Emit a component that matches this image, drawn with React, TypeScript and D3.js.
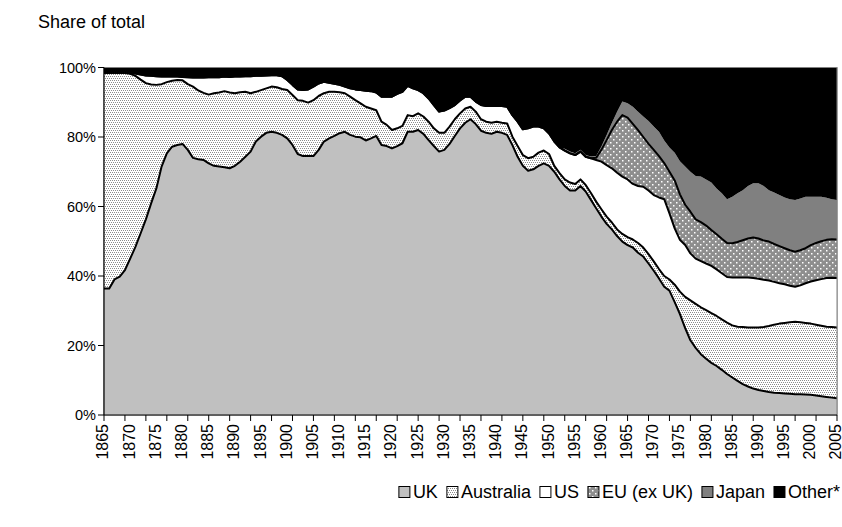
import React from 'react';
import * as d3 from 'd3';

const firstYear = 1865;
const lastYear = 2005;
const years: number[] = d3.range(firstYear, lastYear + 1);

const seriesNames = ['UK', 'Australia', 'US', 'EU (ex UK)', 'Japan', 'Other*'];

const ukValues = [
  36.4, 36.4, 39.0, 39.8, 41.7, 45.0, 48.4, 52.3, 56.3, 60.9,
  65.2, 71.5, 75.3, 77.2, 77.7, 78.0, 76.3, 74.0, 73.6, 73.4,
  72.4, 71.7, 71.5, 71.3, 71.0, 71.7, 72.9, 74.3, 75.8, 78.7,
  80.1, 81.2, 81.5, 81.2, 80.6, 79.6, 77.7, 75.1, 74.5, 74.5,
  74.5, 76.3, 78.7, 79.6, 80.3, 81.1, 81.5, 80.6, 80.1, 79.9,
  79.0, 79.6, 80.3, 77.7, 77.4, 76.7, 77.4, 78.2, 81.5, 81.5,
  82.0, 80.9, 79.1, 77.4, 75.8, 76.3, 78.0, 80.3, 82.5, 84.1,
  85.1, 83.7, 81.8, 81.2, 80.9, 81.5, 81.2, 80.6, 77.7, 74.3,
  71.7, 70.3, 70.7, 71.7, 72.4, 71.7, 70.0, 67.8, 65.9, 64.6,
  64.6, 65.9, 64.3, 61.9, 59.5, 57.1, 55.0, 53.4, 51.5, 49.9,
  48.9, 48.2, 46.7, 45.6, 43.6, 41.5, 39.3, 36.9, 35.8, 32.5,
  29.0, 25.0, 21.5, 19.3, 17.5, 16.2, 15.0, 14.1, 13.0, 11.8,
  10.8, 9.8, 8.9, 8.2, 7.6, 7.2, 6.9, 6.6, 6.4, 6.3,
  6.2, 6.1, 6.0, 6.0, 5.9, 5.8, 5.6, 5.4, 5.2, 5.0,
  4.8,
];

const australiaValues = [
  62.1, 62.1, 59.5, 58.7, 56.7, 53.2, 49.2, 44.2, 39.2, 34.2,
  29.8, 23.7, 20.5, 19.0, 18.7, 18.3, 18.9, 20.5, 19.8, 19.3,
  19.8, 20.9, 21.3, 21.9, 21.8, 20.9, 20.0, 18.7, 16.8, 14.3,
  13.4, 12.8, 13.0, 13.1, 13.2, 13.9, 14.4, 15.5, 15.9, 15.4,
  16.1, 15.5, 13.9, 13.4, 12.7, 11.8, 11.1, 11.0, 10.5, 9.8,
  9.7, 8.6, 7.4, 6.7, 6.1, 5.3, 5.1, 5.0, 4.8, 4.5,
  4.8, 5.0, 5.3, 5.1, 5.4, 4.9, 5.0, 4.8, 4.3, 4.1,
  3.6, 3.6, 3.3, 3.2, 3.2, 2.9, 2.9, 3.3, 2.4, 3.1,
  3.1, 3.6, 3.6, 3.8, 3.7, 3.4, 1.7, 1.8, 1.9, 2.3,
  1.9, 1.9, 1.9, 2.0, 1.9, 2.1, 2.1, 2.0, 1.9, 2.2,
  2.3, 2.3, 2.8, 2.6, 2.7, 2.7, 2.7, 3.1, 3.2, 5.0,
  6.5, 9.0, 11.5, 12.7, 13.5, 14.0, 14.3, 14.4, 14.5, 14.8,
  15.0, 15.6, 16.4, 17.0, 17.6, 18.0, 18.4, 19.0, 19.6, 20.0,
  20.3, 20.6, 20.8, 20.7, 20.6, 20.5, 20.4, 20.3, 20.2, 20.3,
  20.4,
];

const usValues = [
  0, 0, 0, 0, 0.1, 0.2, 0.7, 1.5, 2.2, 2.5,
  2.5, 2.2, 1.6, 1.2, 1.0, 1.0, 2.0, 2.6, 3.7, 4.4,
  5.0, 4.7, 4.4, 4.2, 4.5, 4.8, 4.5, 4.5, 4.9, 4.6,
  4.1, 3.7, 3.3, 3.5, 3.7, 2.9, 2.9, 3.1, 3.1, 3.8,
  3.9, 3.6, 3.3, 2.6, 2.3, 2.1, 1.9, 2.4, 3.1, 3.8,
  4.6, 5.0, 5.1, 7.2, 8.1, 9.6, 9.9, 9.8, 8.4, 8.0,
  6.7, 6.7, 6.7, 6.7, 6.1, 6.4, 5.3, 4.1, 3.7, 3.4,
  2.9, 2.9, 4.1, 4.5, 4.8, 4.5, 4.8, 4.8, 6.2, 7.0,
  7.4, 8.6, 8.7, 7.5, 6.4, 5.9, 7.0, 7.4, 8.3, 8.4,
  8.3, 8.0, 8.1, 10.0, 12.0, 13.7, 14.8, 15.6, 16.3, 16.5,
  16.6, 16.0, 16.4, 17.5, 18.3, 19.1, 20.6, 22.1, 19.0, 16.2,
  14.9, 14.9, 13.5, 13.0, 13.3, 13.4, 13.6, 13.4, 13.3, 13.1,
  13.8, 14.2, 14.3, 14.4, 14.2, 14.0, 13.6, 13.1, 12.3, 11.6,
  11.1, 10.5, 10.1, 10.6, 11.4, 12.1, 12.8, 13.4, 14.0, 14.2,
  14.2,
];

// EU (ex UK) values start in 1959 (zero before)
const euStartYear = 1959;
const euValues = [
  0.6, 3.4, 7.2, 11.0, 14.7, 17.7, 17.8, 17.3, 16.1, 14.3,
  13.4, 13.0, 11.9, 10.4, 12.0, 13.8, 13.1, 11.6, 12.0, 11.3,
  11.2, 10.9, 10.3, 10.1, 9.9, 9.8, 9.8, 10.2, 10.7, 11.2,
  11.7, 11.6, 11.3, 11.2, 10.9, 10.7, 10.4, 10.2, 10.1, 10.1,
  10.1, 10.5, 10.7, 10.9, 11.0, 11.1, 11.1,
];

// Japan values start in 1953 (zero before)
const japanStartYear = 1953;
const japanValues = [
  0.5, 0.5, 0.5, 0.5, 0.5, 0.5,
  0.5, 1.0, 1.5, 2.0, 2.9, 3.9, 4.1, 4.9, 5.3, 5.9,
  6.6, 6.7, 7.0, 6.5, 7.0, 8.0, 9.5, 11.0, 11.5, 12.5,
  13.1, 13.3, 13.7, 13.2, 13.1, 12.6, 13.4, 14.0, 14.4, 15.1,
  15.6, 15.9, 15.7, 14.8, 14.8, 14.7, 14.6, 14.7, 14.9, 14.9,
  14.8, 13.9, 13.3, 12.8, 12.1, 11.5, 11.4,
];

const otherValues = [
  1.5, 1.5, 1.5, 1.5, 1.5, 1.6, 1.7, 2.0, 2.3, 2.4,
  2.5, 2.6, 2.6, 2.6, 2.6, 2.7, 2.8, 2.9, 2.9, 2.9,
  2.8, 2.7, 2.8, 2.6, 2.7, 2.6, 2.6, 2.5, 2.5, 2.4,
  2.4, 2.3, 2.2, 2.2, 2.5, 3.6, 5.0, 6.3, 6.5, 6.3,
  5.5, 4.6, 4.1, 4.4, 4.7, 5.0, 5.5, 6.0, 6.3, 6.5,
  6.7, 6.8, 7.2, 8.4, 8.4, 8.4, 7.6, 7.0, 5.3, 6.0,
  6.5, 7.4, 8.9, 10.8, 12.7, 12.4, 11.7, 10.8, 9.5, 8.4,
  8.4, 9.8, 10.8, 11.1, 11.1, 11.1, 11.1, 11.3, 13.7, 15.6,
  17.8, 17.5, 17.0, 17.0, 17.5, 19.0, 21.3, 23.0, 23.4, 24.2,
  24.7, 23.7, 25.2, 25.6, 25.5, 22.7, 19.4, 16.0, 12.7, 9.8,
  10.3, 11.3, 12.7, 14.1, 15.4, 17.0, 18.5, 21.0, 23.0, 24.5,
  27.0, 28.5, 30.0, 31.2, 31.4, 32.2, 33.1, 34.8, 36.2, 37.9,
  37.2, 36.2, 35.3, 34.1, 33.3, 33.3, 34.1, 35.3, 36.0, 36.7,
  37.4, 37.9, 38.1, 37.7, 37.2, 37.2, 37.2, 37.2, 37.5, 37.9,
  38.1,
];

const yTickValues = [0, 20, 40, 60, 80, 100];
const xLabelYears = d3.range(1865, 2006, 5);
const xTickYears = d3.range(1865, 2006, 4);

const W = 842;
const H = 527;
const plotLeft = 104;
const plotRight = 837;
const plotTop = 67.5;
const plotBottom = 415;
const FONT_NAME = 'Liberation Sans';
const FONT = "'Liberation Sans', Arial, Helvetica, sans-serif";

const fills = ['#c0c0c0', 'url(#patAus)', '#ffffff', 'url(#patEU)', '#808080', '#000000'];
const stroked = [true, true, true, true, false, false];

const legendFontSize = 18;
const legendRight = 840;
const legendSwatch = 11;
const legendSwatchGap = 3;
const legendItemGap = 9;

function measure(text: string, size: number): number {
  try {
    const c = document.createElement('canvas').getContext('2d');
    if (c) {
      c.font = `${size}px '${FONT_NAME}'`;
      return c.measureText(text).width;
    }
  } catch (e) {}
  return text.length * size * 0.55;
}

export default function App() {
  const rows = years.map((yr, i) => ({
    year: yr,
    'UK': ukValues[i],
    'Australia': australiaValues[i],
    'US': usValues[i],
    'EU (ex UK)': yr >= euStartYear ? euValues[yr - euStartYear] : 0,
    'Japan': yr >= japanStartYear ? japanValues[yr - japanStartYear] : 0,
    'Other*': otherValues[i],
  }));

  const x = d3.scaleLinear().domain([firstYear, lastYear]).range([plotLeft, plotRight]);
  const y = d3.scaleLinear().domain([0, 100]).range([plotBottom, plotTop]);

  const stack = d3.stack<any>().keys(seriesNames).order(d3.stackOrderNone).offset(d3.stackOffsetNone);
  const layers = stack(rows);

  const area = d3.area<any>()
    .x((d) => x(d.data.year))
    .y0((d) => y(d[0]))
    .y1((d) => y(Math.min(100, d[1])));
  const topLine = d3.line<any>()
    .x((d) => x(d.data.year))
    .y((d) => y(Math.min(100, d[1])));

  // legend layout from measured text widths, right-aligned to legendRight
  const widths = seriesNames.map((n) => measure(n, legendFontSize));
  const total = widths.reduce((a, b) => a + b, 0) + seriesNames.length * (legendSwatch + legendSwatchGap) +
    (seriesNames.length - 1) * legendItemGap;
  let cursor = legendRight - total;
  const legendX = widths.map((w) => {
    const pos = cursor;
    cursor += legendSwatch + legendSwatchGap + w + legendItemGap;
    return pos;
  });

  return (
    <svg width={W} height={H} style={{ position: 'absolute', left: 0, top: 0, background: '#fff' }}
      fontFamily={FONT}>
      <defs>
        <pattern id="patAus" width="4" height="4" patternUnits="userSpaceOnUse">
          <rect width="4" height="4" fill="#ffffff" />
          <rect x="0" y="0" width="1" height="1" fill="#8c8c8c" />
          <rect x="2" y="0" width="1" height="1" fill="#8c8c8c" />
          <rect x="1" y="2" width="1" height="1" fill="#8c8c8c" />
          <rect x="3" y="2" width="1" height="1" fill="#8c8c8c" />
        </pattern>
        <pattern id="patEU" width="6" height="6" patternUnits="userSpaceOnUse">
          <rect width="6" height="6" fill="#8e8e8e" />
          <rect x="1" y="1" width="1.5" height="1.5" fill="#ffffff" />
          <rect x="4" y="4" width="1.5" height="1.5" fill="#ffffff" />
        </pattern>
        <clipPath id="plotClip">
          <rect x={plotLeft} y={plotTop} width={plotRight - plotLeft} height={plotBottom - plotTop} />
        </clipPath>
      </defs>

      <text x={38} y={28} fontSize={18} fill="#000">Share of total</text>

      <rect x={plotLeft} y={plotTop} width={plotRight - plotLeft} height={plotBottom - plotTop}
        fill="#fff" stroke="#808080" strokeWidth={1} />

      <g clipPath="url(#plotClip)">
        {layers.map((layer, i) => (
          <path key={'a' + i} d={area(layer) || ''} fill={fills[i]} stroke="none" />
        ))}
        {layers.map((layer, i) =>
          stroked[i] ? (
            <path key={'l' + i} d={topLine(layer) || ''} fill="none" stroke="#000" strokeWidth={2}
              strokeLinejoin="round" />
          ) : null
        )}
      </g>

      <line x1={plotRight} x2={plotRight} y1={plotTop} y2={plotBottom} stroke="#808080" strokeWidth={1} />
      <line x1={plotLeft} x2={plotRight} y1={plotTop} y2={plotTop} stroke="#808080" strokeWidth={1} />

      {/* y axis */}
      <line x1={plotLeft} x2={plotLeft} y1={plotTop} y2={plotBottom} stroke="#000" strokeWidth={1.2} />
      {yTickValues.map((v) => (
        <g key={'y' + v}>
          <line x1={plotLeft - 6} x2={plotLeft} y1={y(v)} y2={y(v)} stroke="#000" strokeWidth={1} />
          <text x={plotLeft - 8} y={y(v)} dy="0.35em" textAnchor="end" fontSize={14.5} fill="#000">{v}%</text>
        </g>
      ))}

      {/* x axis */}
      <line x1={plotLeft} x2={plotRight} y1={plotBottom} y2={plotBottom} stroke="#000" strokeWidth={1.2} />
      {xTickYears.map((yr) => (
        <line key={'xt' + yr} x1={x(yr)} x2={x(yr)} y1={plotBottom} y2={plotBottom + 6} stroke="#000" strokeWidth={1} />
      ))}
      {xLabelYears.map((yr) => (
        <text key={'xl' + yr} transform={`translate(${x(yr)},${plotBottom + 9}) rotate(-90)`}
          textAnchor="end" dy="0.28em" fontSize={16} fill="#000">{yr}</text>
      ))}

      {/* legend */}
      {seriesNames.map((name, i) => (
        <g key={'lg' + i}>
          <rect x={legendX[i]} y={486.5} width={legendSwatch} height={legendSwatch} fill={fills[i]}
            stroke="#000" strokeWidth={1} />
          <text x={legendX[i] + legendSwatch + legendSwatchGap} y={492} dy="0.35em" fontSize={legendFontSize}
            fill="#000">{name}</text>
        </g>
      ))}
    </svg>
  );
}
